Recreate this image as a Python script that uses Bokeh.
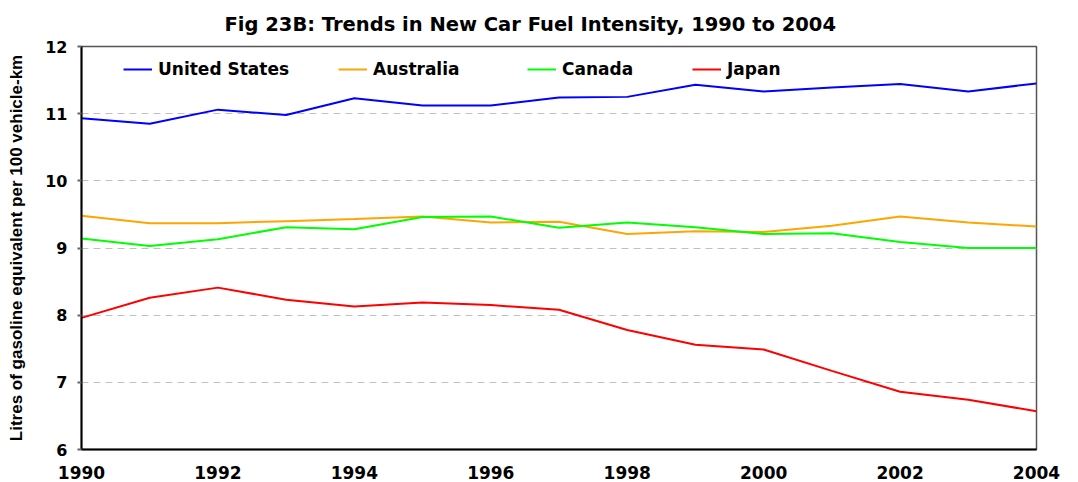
from bokeh.plotting import figure
from bokeh.models import Legend, LegendItem, FixedTicker
from bokeh.embed import file_html
from bokeh.resources import INLINE

years = list(range(1990, 2005))
united_states = [10.93, 10.85, 11.06, 10.98, 11.23, 11.12, 11.12, 11.24, 11.25, 11.43, 11.33, 11.39, 11.44, 11.33, 11.45]
australia = [9.48, 9.37, 9.37, 9.40, 9.43, 9.47, 9.38, 9.39, 9.21, 9.25, 9.24, 9.33, 9.47, 9.38, 9.32]
canada = [9.14, 9.03, 9.13, 9.31, 9.28, 9.46, 9.47, 9.30, 9.38, 9.31, 9.21, 9.22, 9.09, 9.00, 9.00]
japan = [7.96, 8.26, 8.41, 8.23, 8.13, 8.19, 8.15, 8.08, 7.78, 7.56, 7.49, 7.17, 6.86, 6.74, 6.57]

series_names = ["United States", "Australia", "Canada", "Japan"]
series_values = [united_states, australia, canada, japan]
series_colors = ["#0000FF", "#FFA500", "#00FF00", "#FF0000"]
x_ticks = [1990, 1992, 1994, 1996, 1998, 2000, 2002, 2004]
y_ticks = [6, 7, 8, 9, 10, 11, 12]

title_text = "Fig 23B: Trends in New Car Fuel Intensity, 1990 to 2004"
y_label = "Litres of gasoline equivalent per 100 vehicle-km"

FONT = "DejaVu Sans"
LFONT = "Liberation Sans"

p = figure(width=1078, height=482, x_range=(1990, 2004), y_range=(6, 12),
           output_backend="svg", toolbar_location=None,
           min_border_left=81, min_border_right=42, min_border_top=45, min_border_bottom=33)

p.title.text = title_text
p.title.align = "left"
p.title.offset = 143
p.title.text_font = FONT
p.title.text_font_style = "bold"
p.title.text_font_size = "19.5px"
p.title.text_color = "black"
p.title.standoff = 21

p.xgrid.visible = False
p.ygrid.ticker = FixedTicker(ticks=y_ticks)
p.ygrid.grid_line_color = "#c0c0c0"
p.ygrid.grid_line_dash = "7 5"
p.ygrid.grid_line_width = 1

p.xaxis.ticker = FixedTicker(ticks=x_ticks)
p.yaxis.ticker = FixedTicker(ticks=y_ticks)
for ax in (p.xaxis[0], p.yaxis[0]):
    ax.axis_line_color = "black"
    ax.axis_line_width = 2
    ax.major_tick_line_color = "#666666"
    ax.major_tick_line_width = 2
    ax.major_tick_in = 0
    ax.minor_tick_line_color = None
    ax.major_label_text_font = FONT
    ax.major_label_text_font_style = "bold"
    ax.major_label_text_color = "black"
p.xaxis.major_label_text_font_size = "17px"
p.yaxis.major_label_text_font_size = "16px"
p.xaxis.major_tick_out = 0
p.xaxis.major_label_standoff = 16
p.yaxis.major_tick_out = 4
p.yaxis.major_label_standoff = 10
p.yaxis.axis_label = y_label
p.yaxis.axis_label_text_font = LFONT
p.yaxis.axis_label_text_font_style = "bold"
p.yaxis.axis_label_text_font_size = "17px"
p.yaxis.axis_label_text_color = "black"
p.yaxis.axis_label_standoff = 16

p.outline_line_color = "#555555"
p.outline_line_width = 1.5

renderers = []
for name, vals, col in zip(series_names, series_values, series_colors):
    r = p.line(years, vals, line_color=col, line_width=2)
    renderers.append(r)

legend_x = [42, 257, 446, 611]
for name, r, lx in zip(series_names, renderers, legend_x):
    lg = Legend(items=[LegendItem(label=name, renderers=[r])], location=(lx, 370),
                orientation="horizontal", padding=0, margin=0, spacing=0,
                glyph_width=29, glyph_height=20, label_standoff=6,
                label_text_font=FONT, label_text_font_style="bold",
                label_text_font_size="17px", label_text_color="black",
                border_line_color=None, background_fill_alpha=0)
    p.add_layout(lg, "center")

open("out.html", "w").write(file_html(p, INLINE))
